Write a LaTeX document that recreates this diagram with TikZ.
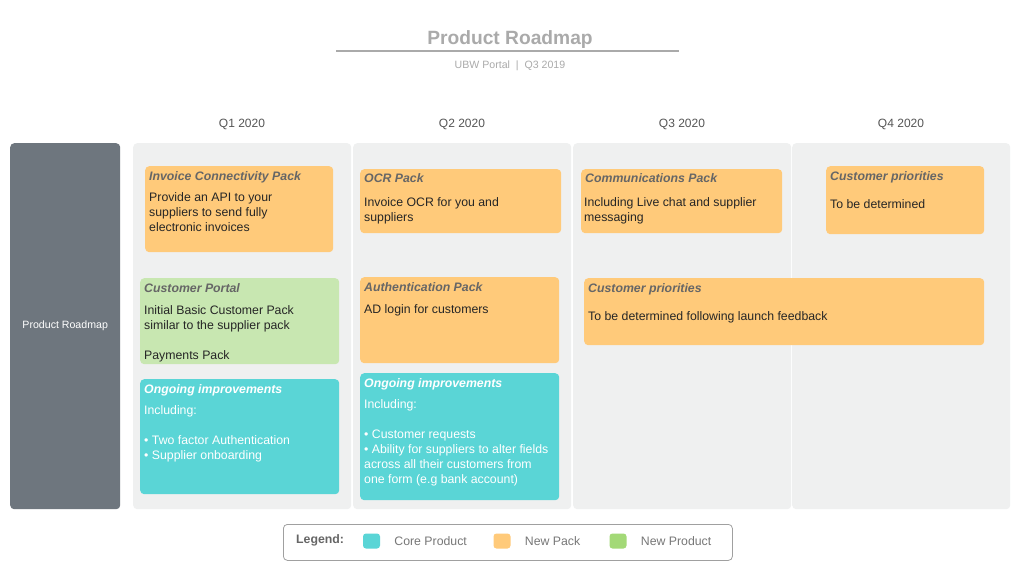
\documentclass[tikz,border=0pt]{standalone}
\usepackage{fontspec}
\setmainfont{Liberation Sans}
\usepackage{tikz}
\usetikzlibrary{calc}
\definecolor{packorange}{HTML}{FFCA7A}
\definecolor{productgreen}{HTML}{C8E7B1}
\definecolor{legendgreen}{HTML}{A3D977}
\definecolor{corecyan}{HTML}{5AD5D6}
\definecolor{colgray}{HTML}{EFF0F0}
\definecolor{sidegray}{HTML}{6E767E}
\definecolor{titlegray}{HTML}{666666}
\definecolor{headgray}{HTML}{555555}
\definecolor{palegray}{HTML}{AAAAAA}
\definecolor{legendgray}{HTML}{777777}

\begin{document}
\begin{tikzpicture}[x=1pt,y=-1pt,
        card/.style={anchor=north west, rounded corners=4pt, inner sep=0pt},
        cardtitle/.style={anchor=north west, inner sep=0pt, text=titlegray,
            font=\fontsize{12.3}{15}\selectfont\bfseries\itshape},
        cardtext/.style={anchor=north west, inner sep=0pt, align=left, text=black!85,
            font=\fontsize{12.3}{15}\selectfont},
        swatch/.style={rounded corners=3pt, minimum width=17pt, minimum height=15pt, inner sep=0pt}]
        \useasboundingbox[fill=white] (0,0) rectangle (1024,577);

        % heading
        \node[font=\fontsize{19.2}{23}\selectfont\bfseries, text=palegray] (title) at (510,39.5) {Product Roadmap};
        \draw[palegray, line width=1.2pt] (336,51) -- (679,51);
        \node[font=\fontsize{10.6}{12}\selectfont, text=palegray] (subtitle) at (510,66) {UBW Portal~~|~~Q3 2019};

        % side bar and quarter columns
        \node[card, fill=sidegray, minimum width=110pt, minimum height=366pt, text=white,
            font=\fontsize{10.6}{12}\selectfont] (side) at (10,143) {Product Roadmap};
        \foreach \x [count=\i] in {133,353,573,792}
        {
            \node[card, fill=colgray, minimum width=218pt, minimum height=366pt] (col\i) at (\x,143) {};
            \node[font=\fontsize{12}{14}\selectfont, text=headgray] (q\i) at (\x+109,124) {Q\i{} 2020};
        }

        % Q1 2020
        \node[card, fill=packorange, minimum width=188pt, minimum height=86pt] (invoice) at (145,166) {};
        \node[cardtitle] (invoiceT) at ($(invoice.north west)+(4,5)$) {Invoice Connectivity Pack};
        \node[cardtext] (invoiceB) at ($(invoice.north west)+(4,26)$) {Provide an API to your\\suppliers to send fully\\electronic invoices};

        \node[card, fill=productgreen, minimum width=199pt, minimum height=86pt] (portal) at (140,278) {};
        \node[cardtitle] (portalT) at ($(portal.north west)+(4,5)$) {Customer Portal};
        \node[cardtext] (portalB) at ($(portal.north west)+(4,27)$) {Initial Basic Customer Pack\\similar to the supplier pack\\[15pt]Payments Pack};

        \node[card, fill=corecyan, minimum width=199pt, minimum height=115pt] (ongoingA) at (140,379) {};
        \node[cardtitle, text=white] (ongoingAT) at ($(ongoingA.north west)+(4,5)$) {Ongoing improvements};
        \node[cardtext, text=white] (ongoingAB) at ($(ongoingA.north west)+(4,26)$) {Including:\\[15pt]%
            \textbullet{} Two factor Authentication\\\textbullet{} Supplier onboarding};

        % Q2 2020
        \node[card, fill=packorange, minimum width=201pt, minimum height=64pt] (ocr) at (360,169) {};
        \node[cardtitle] (ocrT) at ($(ocr.north west)+(4,4)$) {OCR Pack};
        \node[cardtext] (ocrB) at ($(ocr.north west)+(4,28)$) {Invoice OCR for you and\\suppliers};

        \node[card, fill=packorange, minimum width=199pt, minimum height=86pt] (auth) at (360,277) {};
        \node[cardtitle] (authT) at ($(auth.north west)+(4,5)$) {Authentication Pack};
        \node[cardtext] (authB) at ($(auth.north west)+(4,27)$) {AD login for customers};

        \node[card, fill=corecyan, minimum width=199pt, minimum height=127pt] (ongoingB) at (360,373) {};
        \node[cardtitle, text=white] (ongoingBT) at ($(ongoingB.north west)+(4,5)$) {Ongoing improvements};
        \node[cardtext, text=white] (ongoingBB) at ($(ongoingB.north west)+(4,26)$) {Including:\\[15pt]%
            \textbullet{} Customer requests\\\textbullet{} Ability for suppliers to alter fields\\%
            across all their customers from\\one form (e.g bank account)};

        % Q3 and Q4 2020
        \node[card, fill=packorange, minimum width=201pt, minimum height=64pt] (comms) at (581,169) {};
        \node[cardtitle] (commsT) at ($(comms.north west)+(4,4)$) {Communications Pack};
        \node[cardtext] (commsB) at ($(comms.north west)+(3,28)$) {Including Live chat and supplier\\messaging};

        \node[card, fill=packorange, minimum width=158pt, minimum height=68pt] (prioA) at (826,166) {};
        \node[cardtitle] (prioAT) at ($(prioA.north west)+(4,5)$) {Customer priorities};
        \node[cardtext] (prioAB) at ($(prioA.north west)+(4,33)$) {To be determined};

        \node[card, fill=packorange, minimum width=400pt, minimum height=67pt] (prioB) at (584,278) {};
        \node[cardtitle] (prioBT) at ($(prioB.north west)+(4,5)$) {Customer priorities};
        \node[cardtext] (prioBB) at ($(prioB.north west)+(4,33)$) {To be determined following launch feedback};

        % legend
        \node[card, draw=legendgray!70, fill=white, line width=0.8pt, minimum width=449pt, minimum height=36pt] (legend) at (283,524) {};
        \node[anchor=west, inner sep=0pt, text=titlegray, font=\fontsize{12.3}{14}\selectfont\bfseries] (legendT) at (296,540.5) {Legend:};
        \foreach \x/\c/\t [count=\i] in {371.5/corecyan/Core Product, 502/packorange/New Pack, 618/legendgreen/New Product}
        {
            \node[swatch, fill=\c] (sw\i) at (\x,541) {};
            \node[anchor=west, inner sep=0pt, text=legendgray, font=\fontsize{12.3}{14}\selectfont] (lg\i) at ($(sw\i.east)+(14,0)$) {\t};
        }
    \end{tikzpicture}
\end{document}
